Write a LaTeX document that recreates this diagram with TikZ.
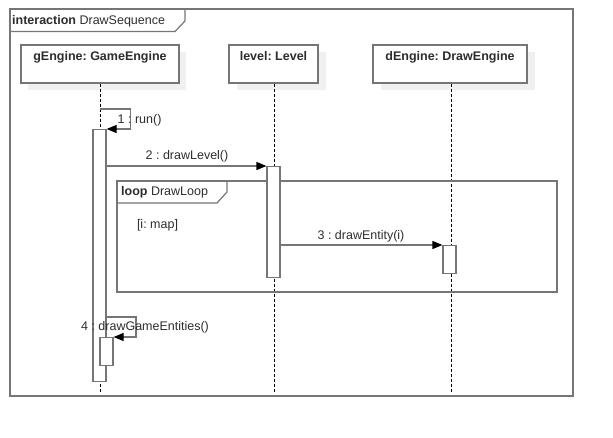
\documentclass[tikz,border=0pt]{standalone}
\usepackage{fontspec}
\setmainfont{Liberation Sans}
\usetikzlibrary{arrows.meta}
\frenchspacing
\definecolor{lc}{RGB}{118,118,118}
\definecolor{tc}{RGB}{45,45,45}
\definecolor{sh}{RGB}{240,240,240}
\tikzset{
  x=1pt,y=-1pt,
  every node/.style={font=\fontsize{12.5}{14}\selectfont\frenchspacing,text=tc},
  head/.style={draw=lc,line width=1.2pt,fill=white,minimum height=38pt,inner sep=0pt},
  headlbl/.style={anchor=north,yshift=-7pt,inner sep=0pt,font=\fontsize{12.5}{14}\selectfont\frenchspacing\bfseries},
  life/.style={draw=black,line width=0.8pt,dash pattern=on 3pt off 2pt},
  act/.style={draw=lc,line width=1.2pt,fill=white,minimum width=13pt,inner sep=0pt,anchor=north},
  frm/.style={draw=lc,line width=1.2pt},
  msg/.style={draw=lc,line width=1.2pt,-{Triangle[length=10pt,width=8pt,color=black]}},
  lbl/.style={inner sep=0pt},
}
\begin{document}
\begin{tikzpicture}
\useasboundingbox (0,0) rectangle (613,437);
% shadows
\fill[sh] (28,52) rectangle (186,90);
\fill[sh] (237,52) rectangle (326,90);
\fill[sh] (381,52) rectangle (535,90);
% outer frame
\draw[frm] (10,9) rectangle (573,396);
\draw[frm] (10,31.5) -- (175,31.5) -- (185,21) -- (185,9);
\node[lbl,anchor=west] (ftitle) at (12,21) {\textbf{interaction} DrawSequence};
% heads
\node[head,minimum width=158pt] (gE) at (100,64) {};
\node[headlbl] at (gE.north) {gEngine: GameEngine};
\node[head,minimum width=89pt] (lv) at (273.5,64) {};
\node[headlbl] at (lv.north) {level: Level};
\node[head,minimum width=154pt] (dE) at (450,64) {};
\node[headlbl] at (dE.north) {dEngine: DrawEngine};
% lifelines
\coordinate (gEend) at (100,393);
\coordinate (lvend) at (274,393);
\coordinate (dEend) at (451,393);
\draw[life] (gE.south -| gEend) -- (gEend);
\draw[life] (lv.south -| lvend) -- (lvend);
\draw[life] (dE.south -| dEend) -- (dEend);
% loop frame
\draw[frm] (117,181) rectangle (557,292);
\draw[frm] (117,203) -- (217,203) -- (227,192) -- (227,181);
\node[lbl,anchor=west] (ltitle) at (121,192) {\textbf{loop} DrawLoop};
\node[lbl] (guard) at (157.5,225) {[i: map]};
% activations
\node[act,minimum height=252pt] (a1) at (99.5,129) {};
\node[act,minimum height=111pt] (a2) at (273.5,166) {};
\node[act,minimum height=28pt] (a3) at (449.5,245) {};
\node[act,minimum height=28pt] (a4) at (106.5,337) {};
% messages
\coordinate (c1) at (100,109);
\draw[msg] (c1) -- (130.5,109) |- (a1.north east);
\node[lbl,anchor=west] (m1) at (117.5,120) {1 : run()};
\draw[msg] (a1.east |- a2.north) -- (a2.north west);
\node[lbl] (m2) at (187,156) {2 : drawLevel()};
\draw[msg] (a2.east |- a3.north) -- (a3.north west);
\node[lbl] (m3) at (361,236.5) {3 : drawEntity(i)};
\coordinate (c4) at (106,317);
\draw[msg] (c4) -- (136,317) |- (a4.north east);
\node[lbl] (m4) at (145,327.5) {4 : drawGameEntities()};
\end{tikzpicture}
\end{document}
